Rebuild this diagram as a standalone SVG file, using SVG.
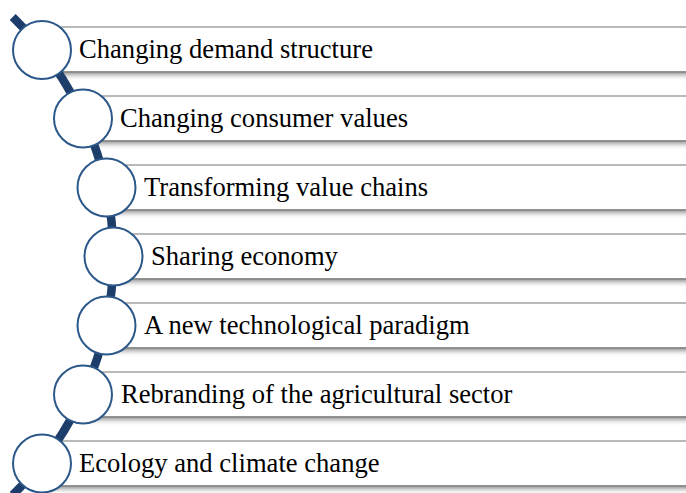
<svg xmlns="http://www.w3.org/2000/svg" width="686" height="493" viewBox="0 0 686 493">
<defs>
<linearGradient id="sh" x1="0" y1="0" x2="0" y2="1">
<stop offset="0" stop-color="#9a9a9a"/>
<stop offset="0.35" stop-color="#cfcfcf"/>
<stop offset="1" stop-color="#ffffff" stop-opacity="0"/>
</linearGradient>
<style>
.bar{fill:#ffffff;stroke:#a3a3a3;stroke-width:1.5}
.bot{stroke:#858585;stroke-width:1.5}
.shadow{fill:url(#sh)}
.circ{fill:#ffffff;stroke:#2b5789;stroke-width:2}
.lbl{font-family:"Liberation Serif","Times New Roman",serif;font-size:26.6px;fill:#000000}
.spine{fill:none;stroke:#1d3e6a;stroke-width:8.5}
</style>
</defs>
<rect width="686" height="493" fill="#ffffff"/>
<g id="bars">
<g id="bar1"><rect class="shadow" x="42" y="72" width="650" height="9"/><rect class="bar" x="42" y="27" width="650" height="45"/><line class="bot" x1="42" y1="72" x2="686" y2="72"/></g>
<g id="bar2"><rect class="shadow" x="83" y="141" width="610" height="9"/><rect class="bar" x="83" y="96" width="610" height="45"/><line class="bot" x1="83" y1="141" x2="686" y2="141"/></g>
<g id="bar3"><rect class="shadow" x="106" y="210" width="590" height="9"/><rect class="bar" x="106" y="165" width="590" height="45"/><line class="bot" x1="106" y1="210" x2="686" y2="210"/></g>
<g id="bar4"><rect class="shadow" x="113" y="279" width="590" height="9"/><rect class="bar" x="113" y="234" width="590" height="45"/><line class="bot" x1="113" y1="279" x2="686" y2="279"/></g>
<g id="bar5"><rect class="shadow" x="106" y="348" width="590" height="9"/><rect class="bar" x="106" y="303" width="590" height="45"/><line class="bot" x1="106" y1="348" x2="686" y2="348"/></g>
<g id="bar6"><rect class="shadow" x="83" y="417" width="610" height="9"/><rect class="bar" x="83" y="372" width="610" height="45"/><line class="bot" x1="83" y1="417" x2="686" y2="417"/></g>
<g id="bar7"><rect class="shadow" x="42" y="486" width="650" height="9"/><rect class="bar" x="42" y="441" width="650" height="45"/><line class="bot" x1="42" y1="486" x2="686" y2="486"/></g>
</g>
<g id="connectors">
<path class="spine" d="M 12.7 17 A 334.3 334.3 0 0 1 12.7 495"/>
</g>
<g id="node1"><circle class="circ" cx="42" cy="50" r="29"/><text class="lbl" x="79" y="57.5">Changing demand structure</text></g>
<g id="node2"><circle class="circ" cx="83" cy="118.5" r="29"/><text class="lbl" x="120" y="126.5">Changing consumer values</text></g>
<g id="node3"><circle class="circ" cx="106.5" cy="187.5" r="29"/><text class="lbl" x="144" y="195.5">Transforming value chains</text></g>
<g id="node4"><circle class="circ" cx="113.5" cy="256.5" r="29"/><text class="lbl" x="151" y="264.5">Sharing economy</text></g>
<g id="node5"><circle class="circ" cx="106.5" cy="325.5" r="29"/><text class="lbl" x="144" y="333.5">A new technological paradigm</text></g>
<g id="node6"><circle class="circ" cx="83" cy="394.5" r="29"/><text class="lbl" x="121" y="402.5">Rebranding of the agricultural sector</text></g>
<g id="node7"><circle class="circ" cx="42" cy="463.5" r="29"/><text class="lbl" x="79" y="471.5">Ecology and climate change</text></g>
</svg>
